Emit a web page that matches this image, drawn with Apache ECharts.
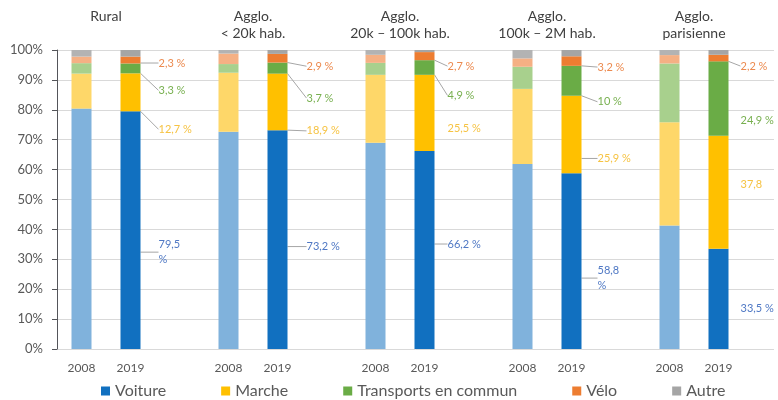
<!DOCTYPE html>
<html>
<head>
<meta charset="utf-8">
<script src="https://cdn.jsdelivr.net/npm/echarts@6/dist/echarts.min.js"></script>
<style>
  html, body { margin: 0; padding: 0; background: #fff; }
  #main { width: 778px; height: 400px; }
</style>
</head>
<body>
<div id="main"></div>
<script>
// groupes de territoires et années
var groupes = ['Rural', 'Agglo.\n< 20k hab.', 'Agglo.\n20k – 100k hab.', 'Agglo.\n100k – 2M hab.', 'Agglo.\nparisienne'];
var annees = ['2008', '2019'];
var modes = ['Voiture', 'Marche', 'Transports en commun', 'Vélo', 'Autre'];

// parts modales 2008
var voiture2008 = [80.4, 72.7, 69.0, 61.9, 41.3];
var marche2008 = [11.7, 19.7, 22.7, 25.1, 34.5];
var tc2008 = [3.5, 2.9, 4.0, 7.4, 19.7];
var velo2008 = [2.2, 3.5, 2.7, 2.8, 2.8];
var autre2008 = [2.2, 1.2, 1.6, 2.8, 1.7];

// parts modales 2019
var voiture2019 = [79.5, 73.2, 66.2, 58.8, 33.5];
var marche2019 = [12.7, 18.9, 25.5, 25.9, 37.8];
var tc2019 = [3.3, 3.7, 4.9, 10, 24.9];
var velo2019 = [2.3, 2.9, 2.7, 3.2, 2.2];
var autre2019 = [2.2, 1.3, 0.7, 2.1, 1.6];

var yTicks = [0, 10, 20, 30, 40, 50, 60, 70, 80, 90, 100];

var valeurs2008 = [voiture2008, marche2008, tc2008, velo2008, autre2008];
var valeurs2019 = [voiture2019, marche2019, tc2019, velo2019, autre2019];

// couleurs
var couleurs = ['#1170c0', '#ffc000', '#6aac46', '#ed7d31', '#a5a5a5'];
var couleursPale = ['#80b2dc', '#fed769', '#a8d08d', '#f5b084', '#b3b3b3'];
var couleursLabel = ['#4f78c4', '#f6c343', '#78b050', '#ec8a4f', '#999'];

// décalage des étiquettes (px) par mode, par groupe
var decalY = [
    [22, 7, -6, 17, 10],
    [37, 29, 16, 24, -8],
    [22, 30, 28, 21, 22],
    [3, 8, 10, 6, 8]
];
var decalX = [18, 19, 13, 16, 12];
var sansTrait = {'1-2': 1, '1-4': 1, '0-4': 1, '2-4': 1};
var coupe = {'0-0': 1, '0-3': 1};

var gridLeft = 57, gridTop = 50, gridBottom = 51, pas = 49;

// 2008, 2019, vide... (sans le dernier vide)
var categories = [];
groupes.forEach(function (t, g) {
    categories.push(annees[0], annees[1]);
    if (g < groupes.length - 1) categories.push('');
});

function fmt(v) {
    return String(v).replace('.', ',') + ' %';
}

var series = modes.map(function (nom, m) {
    var data = [];
    for (var g = 0; g < groupes.length; g++) {
        data.push({
            value: valeurs2008[m][g],
            itemStyle: {color: couleursPale[m]},
            label: {show: false},
            labelLine: {show: false}
        });
        var item = {value: valeurs2019[m][g]};
        if (m === 4) {
            item.label = {show: false};
        } else {
            item.label = {show: true, color: couleursLabel[m]};
            if (m === 1 && g === 4) item.label.formatter = '37,8';
            if (coupe[m + '-' + g]) {
                item.label.width = 30;
                item.label.overflow = 'break';
            }
            if (sansTrait[m + '-' + g]) item.labelLine = {show: false};
        }
        data.push(item);
        if (g < groupes.length - 1) data.push('-');
    }
    return {
        name: nom,
        type: 'bar',
        stack: 'total',
        barWidth: 20,
        xAxisIndex: 0,
        yAxisIndex: 0,
        itemStyle: {color: couleurs[m]},
        label: {
            show: true,
            position: 'right',
            distance: 0,
            fontSize: 11,
            fontFamily: 'Lato',
            lineHeight: 15,
            formatter: function (p) { return fmt(p.value); }
        },
        labelLine: {show: true, lineStyle: {color: '#a6a6a6', width: 1}},
        labelLayout: function (p) {
            var g = Math.floor(p.dataIndex / 3);
            if (p.seriesIndex > 3) return {};
            return {dx: decalX[g], dy: decalY[p.seriesIndex][g]};
        },
        data: data
    };
});

var titres = groupes.map(function (t, g) {
    return {
        type: 'text',
        x: gridLeft + (3 * g + 1) * pas,
        y: 8,
        style: {
            text: t,
            textAlign: 'center',
            fontSize: 14,
            fontFamily: 'Lato',
            lineHeight: 17,
            fill: '#404040'
        }
    };
});

var myChart = echarts.init(document.getElementById('main'));
myChart.setOption({
    animation: false,
    textStyle: {fontFamily: 'Lato'},
    grid: [
        // barres
        {left: gridLeft, top: gridTop, width: pas * categories.length, bottom: gridBottom},
        // quadrillage sur toute la largeur
        {left: gridLeft, top: gridTop, right: 4, bottom: gridBottom}
    ],
    legend: {
        top: 378,
        left: 96,
        icon: 'rect',
        itemWidth: 9,
        itemHeight: 9,
        itemGap: 55,
        textStyle: {fontSize: 16, color: '#595959', fontFamily: 'Lato'},
        data: modes
    },
    xAxis: [{
        type: 'category',
        gridIndex: 0,
        data: categories,
        axisTick: {show: false},
        axisLine: {show: false},
        axisLabel: {color: '#595959', fontSize: 12, margin: 13, interval: 0}
    }, {
        type: 'value',
        gridIndex: 1,
        min: 0,
        max: 1,
        show: false
    }],
    yAxis: [{
        type: 'value',
        gridIndex: 0,
        min: yTicks[0],
        max: yTicks[yTicks.length - 1],
        interval: 10,
        show: false
    }, {
        type: 'value',
        gridIndex: 1,
        min: yTicks[0],
        max: yTicks[yTicks.length - 1],
        interval: 10,
        axisLabel: {color: '#595959', fontSize: 13, margin: 14, formatter: '{value}%'},
        splitLine: {lineStyle: {color: '#d9d9d9'}}
    }],
    graphic: titres,
    series: series
});
</script>
</body>
</html>
